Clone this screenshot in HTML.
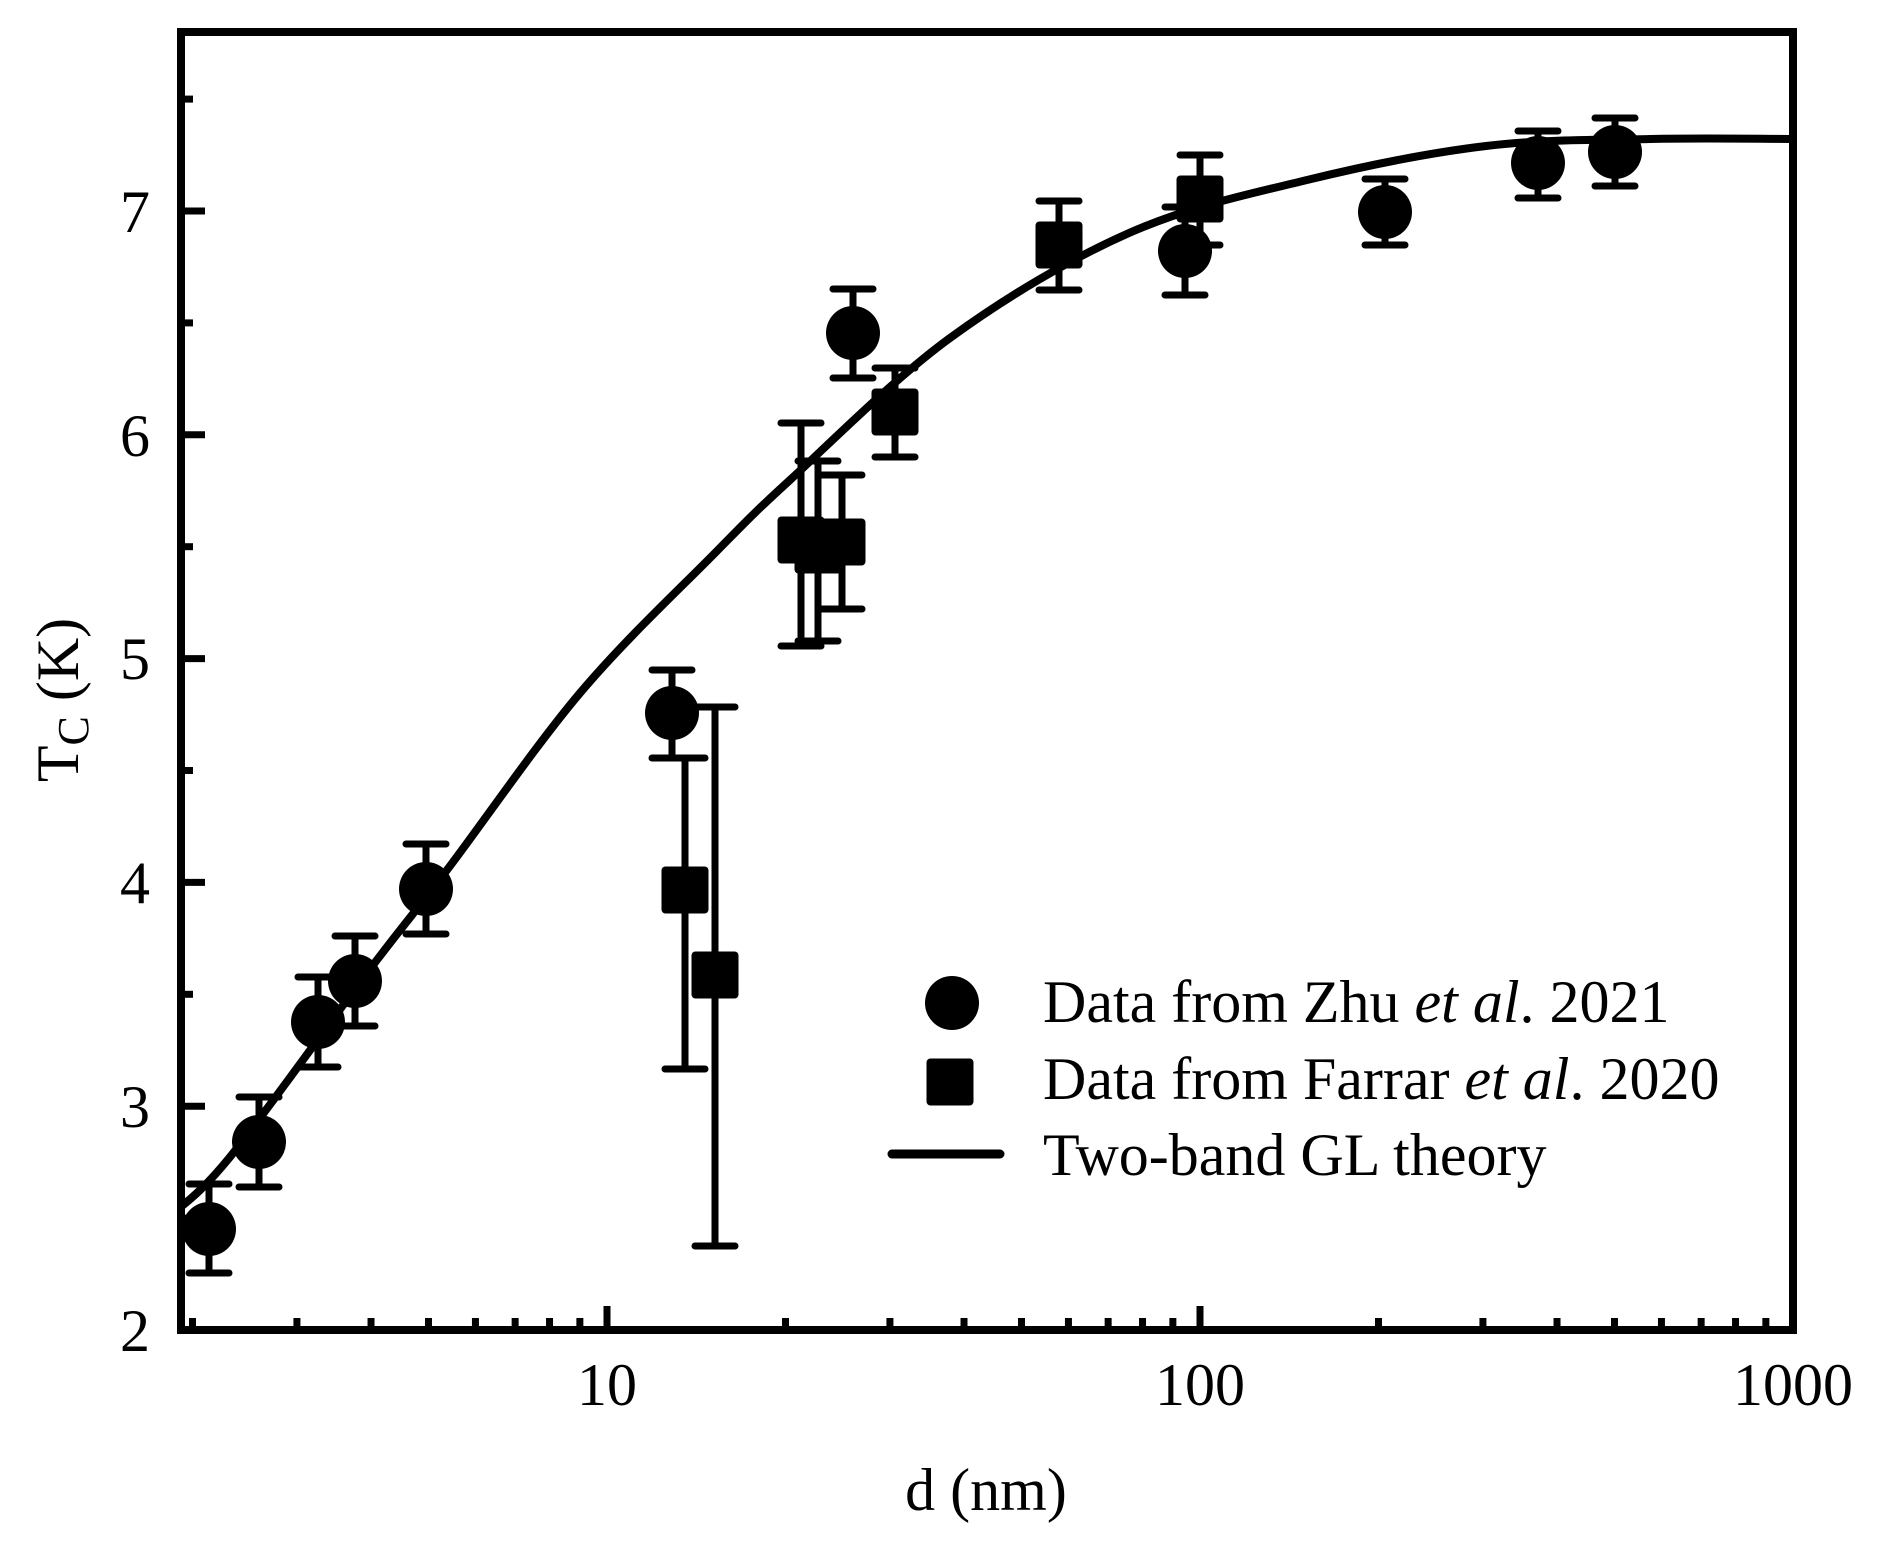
<!DOCTYPE html>
<html><head><meta charset="utf-8"><style>
html,body{margin:0;padding:0;background:#fff;}
svg{display:block;}
text{font-family:"Liberation Serif",serif;fill:#000;}
</style></head><body>
<svg id="s" width="1890" height="1554" viewBox="0 0 1890 1554" xmlns="http://www.w3.org/2000/svg">
<defs><clipPath id="cp"><rect x="181" y="32" width="1612" height="1298"/></clipPath></defs>
<g id="ticks" stroke="#000" stroke-width="7"></g>
<path id="curve" fill="none" stroke="#000" stroke-width="8" stroke-linejoin="round" clip-path="url(#cp)"/>
<g id="err" stroke="#000" stroke-width="7" stroke-linecap="round" fill="none"></g>
<g id="mk" fill="#000"></g>
<rect x="181" y="32" width="1612" height="1298" fill="none" stroke="#000" stroke-width="8"/>
<g font-size="60">
<text x="150" y="1351" text-anchor="end">2</text>
<text x="150" y="1127" text-anchor="end">3</text>
<text x="150" y="903" text-anchor="end">4</text>
<text x="150" y="679" text-anchor="end">5</text>
<text x="150" y="456" text-anchor="end">6</text>
<text x="150" y="232" text-anchor="end">7</text>
<text x="607" y="1405" text-anchor="middle">10</text>
<text x="1200" y="1405" text-anchor="middle">100</text>
<text x="1793" y="1405" text-anchor="middle">1000</text>
<text x="986" y="1510" text-anchor="middle">d (nm)</text>
<text transform="translate(78,700) rotate(-90)" text-anchor="middle">T<tspan font-size="44" dy="10">C</tspan><tspan dy="-10"> (K)</tspan></text>
<text x="1043" y="1022">Data from Zhu <tspan font-style="italic">et al</tspan>. 2021</text>
<text x="1043" y="1099">Data from Farrar <tspan font-style="italic">et al</tspan>. 2020</text>
<text x="1043" y="1175">Two-band GL theory</text>
</g>
<circle cx="952" cy="1003" r="27" fill="#000"/>
<rect x="926.5" y="1058.5" width="47" height="47" rx="4" fill="#000"/>
<line x1="892" y1="1154" x2="1000" y2="1154" stroke="#000" stroke-width="9" stroke-linecap="round"/>
</svg>
<script>
var NS="http://www.w3.org/2000/svg";
function el(p,t,a){var e=document.createElementNS(NS,t);for(var k in a)e.setAttribute(k,a[k]);document.getElementById(p).appendChild(e);}
function X(d){return 607+593*Math.log10(d/10);}
[2,3,4,5,6,7,8,9,20,30,40,50,60,70,80,90,200,300,400,500,600,700,800,900].forEach(function(d){var x=X(d);el("ticks","line",{x1:x,y1:1330,x2:x,y2:1318});});
[10,100].forEach(function(d){var x=X(d);el("ticks","line",{x1:x,y1:1330,x2:x,y2:1306});});
for(var i=0;i<12;i++){var T=2+i*0.5;var y=1330-(T-2)*223.8;var L=(i%2==0)?24:12;el("ticks","line",{x1:181,y1:y,x2:181+L,y2:y});}
var P=[[170,1216],[230,1157],[367,973],[447,870],[580,693],[713,555],[790,480],[950,338],[1129,233],[1307,180],[1486,146],[1650,139],[1800,139]];
var d="M"+P[0][0]+","+P[0][1];
for(var i=0;i<P.length-1;i++){var p0=P[Math.max(0,i-1)],p1=P[i],p2=P[i+1],p3=P[Math.min(P.length-1,i+2)];
d+=" C"+(p1[0]+(p2[0]-p0[0])/6)+","+(p1[1]+(p2[1]-p0[1])/6)+" "+(p2[0]-(p3[0]-p1[0])/6)+","+(p2[1]-(p3[1]-p1[1])/6)+" "+p2[0]+","+p2[1];}
document.getElementById("curve").setAttribute("d",d);
function eb(x,t,b){el("err","line",{x1:x,y1:t,x2:x,y2:b});el("err","line",{x1:x-20,y1:t,x2:x+20,y2:t});el("err","line",{x1:x-20,y1:b,x2:x+20,y2:b});}
var C=[[209,1229,1184,1273],[259,1142,1097,1187],[318,1022,977,1067],[355,981,936,1026],[426,889,844,934],[672,713,670,758],[853,333,289,378],[1185,251,207,295],[1385,212,179,245],[1538,163,131,198],[1615,152,118,186]];
var S=[[685,890,758,1069],[715,975,707,1246],[801,540,423,646],[818,550,461,641],[842,542,475,609],[895,412,368,457],[1059,245,201,290],[1200,199,155,245]];
C.concat(S).forEach(function(p){eb(p[0],p[2],p[3]);});
C.forEach(function(p){el("mk","circle",{cx:p[0],cy:p[1],r:27});});
S.forEach(function(p){el("mk","rect",{x:p[0]-23.5,y:p[1]-23.5,width:47,height:47,rx:4});});
</script>
</body></html>
